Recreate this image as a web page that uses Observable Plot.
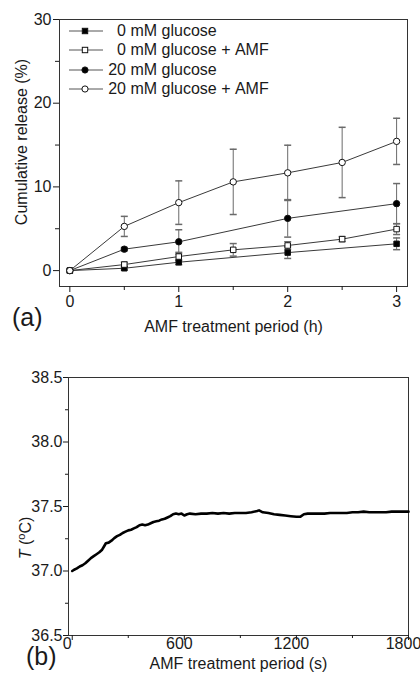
<!DOCTYPE html>
<html><head><meta charset="utf-8">
<script src="https://cdn.jsdelivr.net/npm/d3@7"></script>
<script src="https://cdn.jsdelivr.net/npm/@observablehq/plot@0.6"></script>
<style>
body{margin:0;background:#fff;font-family:"Liberation Sans",Arial,sans-serif;color:#1a1a1a;}
#wrap{position:relative;width:420px;height:676px;overflow:hidden;}
.lg{position:absolute;left:69px;height:20px;display:flex;align-items:center;font-size:16px;white-space:nowrap;}
.lg .num{display:inline-block;width:18px;text-align:right;margin-left:5px;}
.ylab{position:absolute;font-size:16px;white-space:nowrap;transform:translate(-50%,-50%) rotate(-90deg);}
.panel{position:absolute;font-size:25px;line-height:1;}
</style></head><body><div id="wrap"></div>
<script>
// ---- Panel (a) data ----
const seriesNames = ["0 mM glucose", "0 mM glucose + AMF", "20 mM glucose", "20 mM glucose + AMF"];
const legendNums = ["0", "0", "20", "20"];
const legendRest = [" mM glucose", " mM glucose + AMF", " mM glucose", " mM glucose + AMF"];
const s1X = [0, 0.5, 1, 2, 3];
const s1Y = [0, 0.28, 1.0, 2.15, 3.2];
const s1E = [0, 0.2, 0.3, 0.7, 0.7];
const s2X = [0, 0.5, 1, 1.5, 2, 2.5, 3];
const s2Y = [0, 0.72, 1.68, 2.48, 3.0, 3.76, 4.96];
const s2E = [0, 0.3, 0.5, 0.75, 0.45, 0.3, 0.65];
const s3X = [0, 0.5, 1, 2, 3];
const s3Y = [0, 2.56, 3.44, 6.24, 8.0];
const s3E = [0, 0.2, 1.44, 2.24, 2.4];
const s4X = [0, 0.5, 1, 1.5, 2, 2.5, 3];
const s4Y = [0, 5.28, 8.12, 10.6, 11.68, 12.92, 15.44];
const s4E = [0, 1.2, 2.6, 3.9, 3.3, 4.2, 2.76];
const xTicksA = [0, 1, 2, 3];
const xMinorA = [0.5, 1.5, 2.5];
const yTicksA = [0, 10, 20, 30];
const yMinorA = [5, 15, 25];

// ---- Panel (b) data ----
const tSec = [0,10,25,40,55,70,85,100,115,130,145,160,170,180,195,210,225,240,255,270,285,300,315,330,345,360,375,390,405,420,435,450,465,480,495,510,525,540,555,570,585,600,615,630,660,690,720,750,780,810,840,870,900,930,960,990,1000,1020,1050,1080,1110,1140,1170,1200,1220,1240,1260,1290,1320,1350,1380,1410,1440,1470,1500,1530,1560,1590,1620,1650,1680,1710,1740,1770,1800];
const tempC = [37.00,37.01,37.02,37.035,37.045,37.06,37.08,37.10,37.115,37.13,37.145,37.165,37.19,37.215,37.22,37.235,37.255,37.27,37.28,37.295,37.305,37.315,37.32,37.33,37.34,37.355,37.36,37.355,37.36,37.37,37.38,37.385,37.39,37.40,37.405,37.415,37.425,37.44,37.445,37.44,37.445,37.43,37.44,37.445,37.44,37.445,37.445,37.45,37.445,37.45,37.445,37.45,37.45,37.45,37.455,37.465,37.47,37.455,37.45,37.44,37.435,37.43,37.425,37.42,37.42,37.44,37.445,37.445,37.445,37.445,37.45,37.45,37.45,37.45,37.455,37.455,37.46,37.455,37.455,37.455,37.455,37.46,37.46,37.46,37.46];
const xTicksB = [0, 600, 1200, 1800];
const xMinorB = [300, 900, 1500];
const yTicksB = [36.5, 37.0, 37.5, 38.0, 38.5];
const yMinorB = [36.75, 37.25, 37.75, 38.25];

const FONT = "Liberation Sans, Arial, sans-serif";
const wrap = document.getElementById("wrap");

const sets = [[s1X, s1Y, s1E], [s2X, s2Y, s2E], [s3X, s3Y, s3E], [s4X, s4Y, s4E]];
const recs = [];
sets.forEach(([xs, ys, es], i) => xs.forEach((x, j) => recs.push({s: seriesNames[i], x, y: ys[j], e: es[j]})));
const errs = recs.filter(d => d.e > 0);
const styles = [
  {symbol: "square", fill: "#000"},
  {symbol: "square", fill: "#fff"},
  {symbol: "circle", fill: "#000"},
  {symbol: "circle", fill: "#fff"}
];
const cap = {draw(ctx) { ctx.moveTo(-3.5, 0); ctx.lineTo(3.5, 0); }};

const dotMarks = seriesNames.map((name, i) => Plot.dot(recs.filter(d => d.s === name), {
  x: "x", y: "y", symbol: styles[i].symbol, fill: styles[i].fill, stroke: "#111", strokeWidth: 1,
  r: styles[i].symbol === "square" ? 3.1 : 3.2
}));

const plotA = Plot.plot({
  width: 420, height: 340,
  marginTop: 19, marginBottom: 54, marginLeft: 59, marginRight: 13,
  style: {fontFamily: FONT, fontSize: "16px", color: "#1a1a1a", background: "transparent"},
  x: {domain: [-0.095, 3.1]},
  y: {domain: [-1.9, 30]},
  marks: [
    Plot.frame({stroke: "#333"}),
    Plot.axisX(xTicksA, {tickSize: 6, tickPadding: 3, fontSize: 16, label: "AMF treatment period (h)", labelAnchor: "center", labelOffset: 45, labelArrow: false}),
    Plot.axisX(xMinorA, {tickSize: 4, tickFormat: () => "", label: null}),
    Plot.axisY(yTicksA, {tickSize: 6, tickPadding: 2, fontSize: 16, label: null}),
    Plot.axisY(yMinorA, {tickSize: 4, tickFormat: () => "", label: null}),
    Plot.ruleX(errs, {x: "x", y1: d => d.y - d.e, y2: d => d.y + d.e, stroke: "#6a6a6a", strokeWidth: 1}),
    Plot.dot(errs, {x: "x", y: d => d.y + d.e, symbol: cap, stroke: "#6a6a6a", fill: "none", r: 4}),
    Plot.dot(errs, {x: "x", y: d => d.y - d.e, symbol: cap, stroke: "#6a6a6a", fill: "none", r: 4}),
    Plot.line(recs, {x: "x", y: "y", z: "s", stroke: "#3a3a3a", strokeWidth: 1}),
    ...dotMarks
  ]
});
plotA.style.position = "absolute"; plotA.style.left = "0px"; plotA.style.top = "0px";
wrap.appendChild(plotA);

const plotB = Plot.plot({
  width: 420, height: 336,
  marginTop: 37, marginBottom: 41, marginLeft: 68, marginRight: 12,
  style: {fontFamily: FONT, fontSize: "16px", color: "#1a1a1a", background: "transparent"},
  x: {domain: [-20, 1800]},
  y: {domain: [36.5, 38.5]},
  marks: [
    Plot.frame({stroke: "#333"}),
    Plot.axisX(xTicksB, {tickSize: 5, tickFormat: () => "", label: null}),
    Plot.axisX(xTicksB, {tickSize: 0, tickPadding: 2, dx: -5, fontSize: 16, tickFormat: d => String(d), label: "AMF treatment period (s)", labelAnchor: "center", labelOffset: 33, labelArrow: false}),
    Plot.axisX(xMinorB, {tickSize: 3, tickFormat: () => "", label: null}),
    Plot.axisY(yTicksB, {tickSize: 5, tickPadding: 1, fontSize: 16, tickFormat: d3.format(".1f"), label: null}),
    Plot.axisY(yMinorB, {tickSize: 3, tickFormat: () => "", label: null}),
    Plot.line(tSec.map((t, i) => ({t, T: tempC[i]})), {x: "t", y: "T", stroke: "#000", strokeWidth: 2.6})
  ]
});
plotB.style.position = "absolute"; plotB.style.left = "0px"; plotB.style.top = "340px";
wrap.appendChild(plotB);

// Legend (inside panel a)
const rowY = [31, 50, 70, 89];
seriesNames.forEach((name, i) => {
  const row = document.createElement("div");
  row.className = "lg";
  row.style.top = (rowY[i] - 10) + "px";
  const st = styles[i];
  const mk = st.symbol === "square"
    ? `<rect x="13.3" y="7.3" width="5.4" height="5.4" fill="${st.fill}" stroke="#111"/>`
    : `<circle cx="16" cy="10" r="3.1" fill="${st.fill}" stroke="#111"/>`;
  row.innerHTML = `<svg width="34" height="20"><line x1="0" y1="10" x2="34" y2="10" stroke="#555"/>${mk}</svg><span class="num">${legendNums[i]}</span><span>${legendRest[i].replace(/ /g, "\u00a0")}</span>`;
  wrap.appendChild(row);
});

// Y labels
const yla = document.createElement("div");
yla.className = "ylab"; yla.style.left = "22px"; yla.style.top = "142px";
yla.textContent = "Cumulative release (%)";
wrap.appendChild(yla);
const ylb = document.createElement("div");
ylb.className = "ylab"; ylb.style.left = "25px"; ylb.style.top = "538px";
ylb.innerHTML = '<i>T</i> (<sup style="font-size:11px">o</sup>C)';
wrap.appendChild(ylb);

// Panel letters
const pa = document.createElement("div");
pa.className = "panel"; pa.style.left = "12px"; pa.style.top = "305px"; pa.textContent = "(a)";
wrap.appendChild(pa);
const pb = document.createElement("div");
pb.className = "panel"; pb.style.left = "26px"; pb.style.top = "644px"; pb.textContent = "(b)";
wrap.appendChild(pb);
</script></body></html>
